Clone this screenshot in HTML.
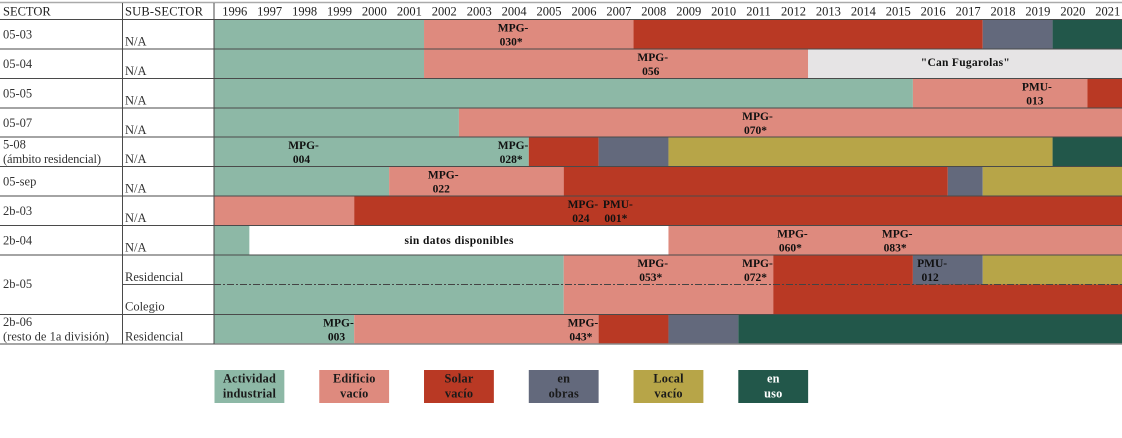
<!DOCTYPE html>
<html lang="es">
<head>
<meta charset="utf-8">
<title>Estado de sectores 1996-2021</title>
<style>
html,body{margin:0;padding:0;background:#fff;width:1122px;height:438px;overflow:hidden}
svg{display:block;font-family:"Liberation Serif",serif;filter:blur(0.3px)}
.head{font-size:12.5px;fill:#222}
.cell{font-size:12.5px;fill:#333}
.mark{font-size:11.5px;font-weight:bold;fill:#111}
.leg{font-size:12.3px;font-weight:bold;fill:#1a1a1a;letter-spacing:.2px}
</style>
</head>
<body>
<svg id="chart" width="1122" height="438" viewBox="0 0 1122 438" xmlns="http://www.w3.org/2000/svg"></svg>
<script>
const years = [1996,1997,1998,1999,2000,2001,2002,2003,2004,2005,2006,2007,2008,2009,2010,2011,2012,2013,2014,2015,2016,2017,2018,2019,2020,2021];
const sectorNames = [["05-03"],["05-04"],["05-05"],["05-07"],["5-08","(ámbito residencial)"],["05-sep"],["2b-03"],["2b-04"],["2b-05"],[],["2b-06","(resto de 1a división)"]];
const subSectors = ["N/A","N/A","N/A","N/A","N/A","N/A","N/A","N/A","Residencial","Colegio","Residencial"];
const stateNames = ["Actividad industrial","Edificio vacío","Solar vacío","en obras","Local vacío","en uso"];
const stateKeys = ["ind","edi","sol","obr","loc","uso"];
const row0 = [["ind",1996,2002],["edi",2002,2008],["sol",2008,2018],["obr",2018,2020],["uso",2020,2022]];
const row1 = [["ind",1996,2002],["edi",2002,2013],["fug",2013,2022]];
const row2 = [["ind",1996,2016],["edi",2016,2021],["sol",2021,2022]];
const row3 = [["ind",1996,2003],["edi",2003,2022]];
const row4 = [["ind",1996,2005],["sol",2005,2007],["obr",2007,2009],["loc",2009,2020],["uso",2020,2022]];
const row5 = [["ind",1996,2001],["edi",2001,2006],["sol",2006,2017],["obr",2017,2018],["loc",2018,2022]];
const row6 = [["edi",1996,2000],["sol",2000,2022]];
const row7 = [["ind",1996,1997],["nd",1997,2009],["edi",2009,2022]];
const row8 = [["ind",1996,2006],["edi",2006,2012],["sol",2012,2016],["obr",2016,2018],["loc",2018,2022]];
const row9 = [["ind",1996,2006],["edi",2006,2012],["sol",2012,2022]];
const row10 = [["ind",1996,2000],["edi",2000,2007],["sol",2007,2009],["obr",2009,2011],["uso",2011,2022]];
const rowSpans = [row0,row1,row2,row3,row4,row5,row6,row7,row8,row9,row10];
const planRows = [0,1,2,3,4,4,5,6,6,7,7,8,8,8,10,10];
const planYears = [2004,2008,2019,2011,1998,2004,2002,2006,2007,2012,2015,2008,2011,2016,1999,2006];
const planPrefix = ["MPG-","MPG-","PMU-","MPG-","MPG-","MPG-","MPG-","MPG-","PMU-","MPG-","MPG-","MPG-","MPG-","PMU-","MPG-","MPG-"];
const planCodes = ["030*","056","013","070*","004","028*","022","024","001*","060*","083*","053*","072*","012","003","043*"];
const palette = {ind:"#8DB8A6",edi:"#DE8A7E",sol:"#B93924",obr:"#63697C",loc:"#B7A548",uso:"#22574A",fug:"#E6E4E5",nd:"#FFFFFF"};
const rowEdges = [19.5,49,78.5,108,137,166.5,196,225.5,255,284.5,314.5,344];

const svg = document.getElementById('chart');
const NS = 'http://www.w3.org/2000/svg';
const x = (year) => 214.5 + (year - 1996) * 34.92;
const rowTop = (i) => rowEdges[i];
const rowBottom = (i) => rowEdges[i + 1];

function shape(tag, props) {
  const el = document.createElementNS(NS, tag);
  Object.keys(props).forEach(k => el.setAttribute(k, props[k]));
  svg.appendChild(el);
  return el;
}
function label(str, px, py, cls, anchor) {
  const el = shape('text', {x: px, y: py, class: cls, 'text-anchor': anchor || 'start'});
  el.textContent = str;
  return el;
}
function hline(x1, x2, y, color, w) {
  return shape('line', {x1: x1, x2: x2, y1: y, y2: y, stroke: color, 'stroke-width': w});
}

/* timeline bars */
rowSpans.forEach((spans, r) => {
  spans.forEach(s => {
    const bar = shape('rect', {x: x(s[1]), y: rowTop(r), width: x(s[2]) - x(s[1]), height: rowBottom(r) - rowTop(r), fill: palette[s[0]]});
    
    
  });
});

/* grid lines */
const topRule = hline(0, 1122, 2.5, '#aaa', 1.4);


rowEdges.forEach((y, i) => {
  if (i === 9) {
    const solid = hline(122, 214, y, '#555', 1);
    
    
    const dash = hline(214, 1122, y, '#444', 1);
    dash.setAttribute('stroke-dasharray', '7 2 2 2');
    
    
  } else {
    const last = i === rowEdges.length - 1;
    const rule = hline(0, 1122, y, last ? '#888' : '#4a4a4a', last ? 1.4 : 1);
    
    
  }
});
[122.5, 214].forEach(px => {
  const v = shape('line', {x1: px, x2: px, y1: 3, y2: 344, stroke: '#4a4a4a', 'stroke-width': 1});
  
  
});

/* header */
const h1 = label('SECTOR', 3, 15.5, 'head');


const h2 = label('SUB-SECTOR', 125, 15.5, 'head');
h2.setAttribute('textLength', '78');


years.forEach(yr => {
  const t = label(String(yr), x(yr + 0.58), 15.5, 'head', 'middle');
  
  
});

/* sector and sub-sector names */
sectorNames.forEach((lines, r) => {
  if (!lines.length) return;
  const merged = lines[0] === '2b-05';
  const two = lines.length === 2;
  lines.forEach((line, j) => {
    const py = merged ? rowBottom(r) + 3.5 : rowTop(r) + (two ? 11.5 + j * 14.5 : 19);
    const t = label(line, 3, py, 'cell');
    if (two && j === 1) t.setAttribute('textLength', r === 4 ? '98' : '106');
    
    
  });
});
subSectors.forEach((name, r) => {
  const t = label(name, 125, rowTop(r) + 26, 'cell');
  
  
});

/* plan labels */
planCodes.forEach((code, i) => {
  const cx = x(planYears[i] + 0.55);
  const top = rowTop(planRows[i]);
  const a = label(planPrefix[i], cx, top + 12, 'mark', 'middle');
  
  
  const b = label(code, cx - 2, top + 26, 'mark', 'middle');
  
  
});
const fug = label('"Can Fugarolas"', x(2017.5), 66, 'mark', 'middle');
fug.setAttribute('textLength', '89');


const nd = label('sin datos disponibles', x(2003), 244, 'mark', 'middle');
nd.setAttribute('textLength', '109');



/* legend */
stateNames.forEach((name, i) => {
  const left = x(1996 + i * 3);
  const box = shape('rect', {x: left, y: 370, width: x(1998) - x(1996), height: 33, fill: palette[stateKeys[i]]});
  
  
  const parts = name.split(' ');
  parts.forEach((p, j) => {
    const t = label(p, left + 35, 382.5 + j * 15, 'leg', 'middle');
    if (stateKeys[i] === 'uso') t.style.fill = '#fff';
    
    
  });
});
</script>
</body>
</html>
